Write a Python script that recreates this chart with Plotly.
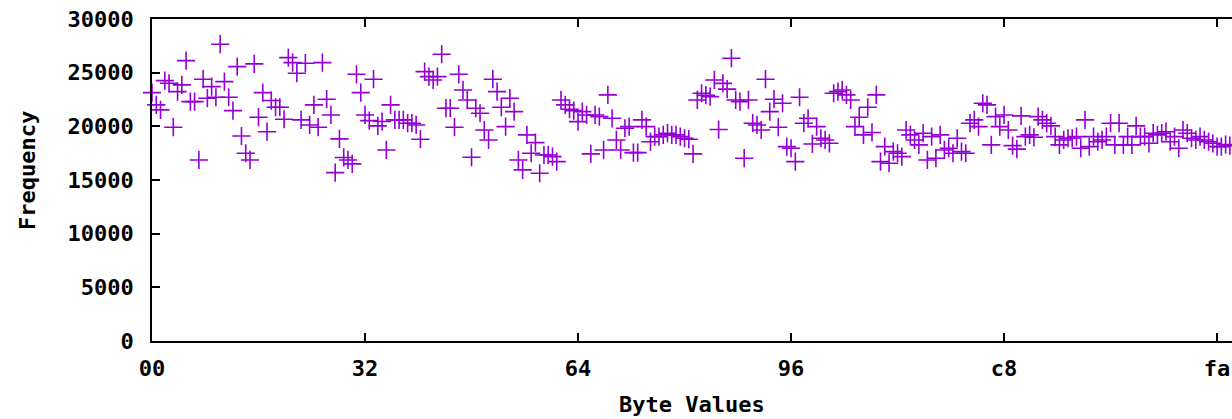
import plotly.graph_objects as go

byte_values = list(range(256))
frequency = [
    23140, 22000, 21530, 24260, 24010, 19920, 23230, 23860, 26120, 22300,
    22300, 16870, 24390, 22620, 23700, 22710, 27650, 24170, 22710, 21460,
    25560, 19100, 17490, 16870, 25820, 20850, 23140, 19500, 22400, 21780,
    21780, 20660, 26400, 25940, 24950, 20600, 25880, 20130, 22000, 19920,
    25940, 22530, 21060, 15690, 18830, 17100, 16870, 16500, 24850, 23140,
    21060, 20530, 24390, 20040, 20450, 17800, 22000, 20600, 20600, 20600,
    20290, 20290, 20130, 18800, 25100, 24630, 24320, 24630, 26720, 21690,
    21690, 19920, 24850, 23390, 22460, 17120, 21690, 21220, 19660, 18730,
    24390, 23230, 21780, 19970, 22620, 21370, 16870, 15940, 19200, 17490,
    18480, 15630, 17330, 17330, 17180, 16710, 22460, 22000, 21590, 21460,
    20440, 21370, 21060, 17430, 21060, 20900, 17800, 22930, 20750, 18730,
    17800, 19820, 19970, 17550, 17550, 20600, 19970, 18570, 19040, 19040,
    19200, 19360, 19200, 19200, 19040, 18890, 18800, 17430, 22460, 23080,
    22900, 22770, 24320, 19700, 24000, 23470, 26350, 22460, 22300, 17030,
    22460, 20290, 20130, 19660, 24390, 21370, 22530, 19920, 22150, 18110,
    17960, 16710, 22710, 20290, 20750, 18360, 19970, 18890, 18730, 18420,
    23080, 23230, 23390, 22930, 22460, 19970, 20850, 19200, 21780, 19430,
    22930, 16710, 18110, 16560, 17640, 17490, 17180, 19660, 19200, 18730,
    18270, 19360, 16870, 19040, 17030, 19200, 17800, 17960, 17490, 18890,
    17640, 17490, 20290, 20600, 19970, 22150, 22000, 18270, 20900, 19970,
    21060, 19660, 18200, 17880, 20970, 19040, 19200, 18980, 20900, 20600,
    20290, 20040, 19040, 18270, 18730, 18890, 18890, 19040, 17960, 20600,
    18110, 19040, 18570, 18730, 19040, 20290, 18270, 20290, 18270, 19040,
    18270, 20040, 19040, 19040, 18420, 19360, 19200, 19360, 19500, 18570,
    19040, 17960, 19660, 19360, 18890, 18730, 19040, 18730, 18570, 18420,
    18110, 18110, 18300, 18200, 18400, 18300,
]

x_tick_vals = [0, 50, 100, 150, 200, 250]
x_tick_text = ["00", "32", "64", "96", "c8", "fa"]
y_tick_vals = [0, 5000, 10000, 15000, 20000, 25000, 30000]

FONT = "DejaVu Sans Mono"
font_tick = dict(family=FONT, size=22, color="black", weight="bold")

fig = go.Figure()
fig.add_trace(go.Scatter(
    x=byte_values, y=frequency, mode="markers",
    marker=dict(symbol="cross-thin", size=13, color="#9400D3",
                line=dict(color="#9400D3", width=1.6)),
    cliponaxis=False, showlegend=False,
))

fig.update_layout(
    width=1232, height=419,
    margin=dict(l=152, r=0, t=19, b=78),
    paper_bgcolor="white", plot_bgcolor="white",
    xaxis=dict(range=[0, 253.5], tickvals=x_tick_vals, ticktext=x_tick_text,
               showgrid=False, zeroline=False, showline=True, linecolor="black",
               linewidth=1.5, mirror="ticks", ticks="inside", ticklen=8,
               tickwidth=1.5, tickcolor="black", tickfont=font_tick,
               ticklabelstandoff=7, ticklabeloverflow="allow"),
    yaxis=dict(range=[0, 30000], tickvals=y_tick_vals,
               ticktext=[str(v) for v in y_tick_vals],
               showgrid=False, zeroline=False, showline=True, linecolor="black",
               linewidth=1.5, mirror=False, ticks="inside", ticklen=8,
               tickwidth=1.5, tickcolor="black", tickfont=font_tick,
               ticklabelstandoff=12),
    annotations=[
        dict(text="Frequency", xref="paper", yref="paper",
             x=(27 - 152) / 1080, y=(341 - 171) / 322, textangle=-90,
             showarrow=False, font=font_tick, xanchor="center", yanchor="middle"),
        dict(text="Byte Values", xref="paper", yref="paper",
             x=(692 - 152) / 1080, y=(341 - 404) / 322,
             showarrow=False, font=font_tick, xanchor="center", yanchor="middle"),
        dict(text="Encrypted Stream Sample Distribution", xref="paper", yref="paper",
             x=(228 - 152) / 1080, y=1, yshift=17, xanchor="left", yanchor="bottom",
             showarrow=False, font=dict(family=FONT, size=30, color="black", weight="bold")),
    ],
)

fig.write_html("out.html")
